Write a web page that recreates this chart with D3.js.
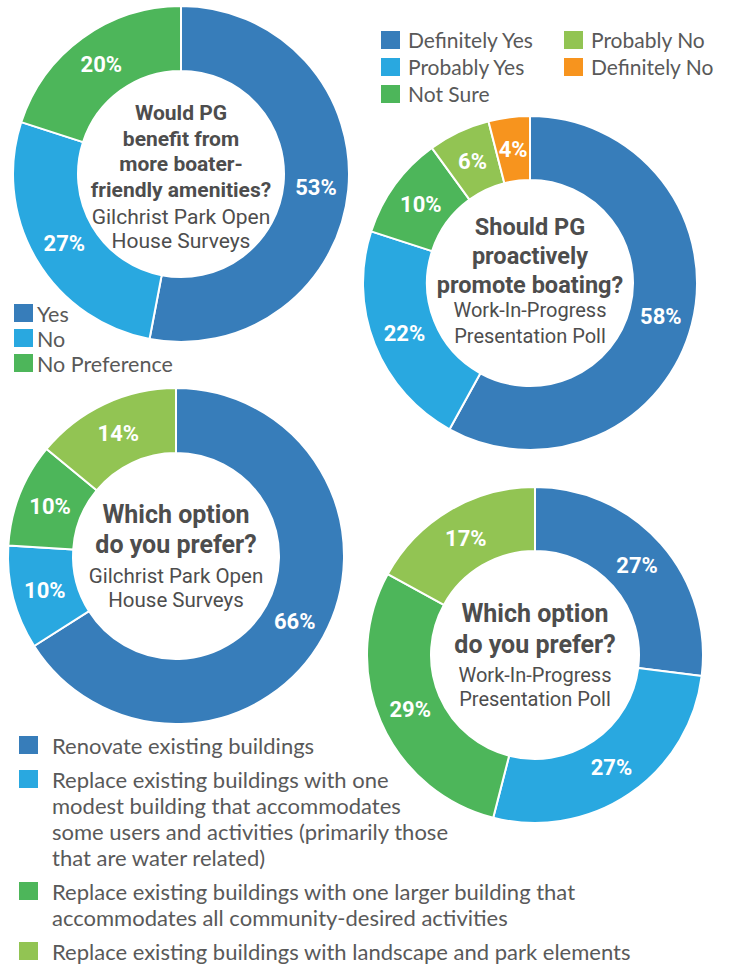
<!DOCTYPE html>
<html>
<head>
<meta charset="utf-8">
<script src="https://cdn.jsdelivr.net/npm/d3@7"></script>
<style>
  html, body { margin: 0; padding: 0; background: #fff; }
  svg { display: block; }
</style>
</head>
<body>
<svg id="chart" width="733" height="966"></svg>
<script>
// Survey results: four doughnuts
const boaterCategories = ["Yes", "No", "No Preference"];
const boaterValues = [53, 27, 20];

const promoteCategories = ["Definitely Yes", "Probably Yes", "Not Sure", "Probably No", "Definitely No"];
const promoteValues = [58, 22, 10, 6, 4];

const optionCategories = [
  "Renovate existing buildings",
  "Replace existing buildings with one\nmodest building that accommodates\nsome users and activities (primarily those\nthat are water related)",
  "Replace existing buildings with one larger building that\naccommodates all community-desired activities",
  "Replace existing buildings with landscape and park elements"
];
const optionOpenHouseValues = [66, 10, 10, 14];
const optionPollValues = [27, 27, 29, 17];

const boaterTitle = ["Would PG", "benefit from", "more boater-", "friendly amenities?"];
const promoteTitle = ["Should PG", "proactively", "promote boating?"];
const optionTitle = ["Which option", "do you prefer?"];
const openHouseSource = ["Gilchrist Park Open", "House Surveys"];
const pollSource = ["Work-In-Progress", "Presentation Poll"];

const BLUE = "#377dba", SKY = "#29a8e0", GREEN = "#4db65a", LIME = "#92c453", ORANGE = "#f7941e";
const TEXT_DARK = "#4d4d4d", LEGEND_TEXT = "#595959";

const svg = d3.select("#chart");
svg.append("rect").attr("width", 733).attr("height", 966).attr("fill", "#fff");

function doughnut(opts) {
  const g = svg.append("g").attr("transform", `translate(${opts.cx},${opts.cy})`);
  const color = d3.scaleOrdinal().domain(opts.categories).range(opts.colors);
  const pie = d3.pie().sort(null).value(d => d.value);
  const data = pie(opts.categories.map((c, i) => ({ category: c, value: opts.values[i] })));
  const arc = d3.arc().innerRadius(opts.inner).outerRadius(opts.outer);
  const labelR = (opts.inner + opts.outer) / 2;
  const labelArc = d3.arc().innerRadius(labelR).outerRadius(labelR);

  g.selectAll("path.slice").data(data).join("path")
    .attr("class", "slice")
    .attr("d", arc)
    .attr("fill", d => color(d.data.category))
    .attr("stroke", "#fff")
    .attr("stroke-width", 2)
    .attr("stroke-linejoin", "round");

  g.selectAll("text.pct").data(data).join("text")
    .attr("class", "pct")
    .attr("transform", d => `translate(${labelArc.centroid(d)})`)
    .attr("text-anchor", "middle")
    .attr("dy", "0.36em")
    .attr("font-family", "Roboto, sans-serif")
    .attr("font-weight", 700)
    .attr("font-size", 22)
    .attr("fill", "#fff")
    .text(d => d.data.value + "%");

  // centre caption: bold question followed by the source
  const t = g.append("g").attr("font-family", "Roboto, sans-serif").attr("text-anchor", "middle");
  let y = opts.titleY;
  opts.title.forEach((line, i) => {
    t.append("text").attr("y", y).attr("font-weight", 700)
      .attr("font-size", opts.titleSize).attr("fill", TEXT_DARK).text(line);
    if (i < opts.title.length - 1) y += opts.titleLH;
  });
  y += opts.gap;
  opts.source.forEach((line, i) => {
    t.append("text").attr("y", y).attr("font-weight", 400)
      .attr("font-size", opts.sourceSize).attr("fill", TEXT_DARK).text(line);
    y += opts.sourceLH;
  });
}

doughnut({ cx: 181, cy: 174, inner: 103, outer: 168,
  categories: boaterCategories, values: boaterValues, colors: [BLUE, SKY, GREEN],
  title: boaterTitle, source: openHouseSource,
  titleSize: 21, titleLH: 25.5, titleY: -54, gap: 27, sourceSize: 21, sourceLH: 24 });

doughnut({ cx: 530, cy: 283, inner: 103, outer: 167,
  categories: promoteCategories, values: promoteValues, colors: [BLUE, SKY, GREEN, LIME, ORANGE],
  title: promoteTitle, source: pollSource,
  titleSize: 23.5, titleLH: 29, titleY: -48, gap: 24, sourceSize: 20, sourceLH: 26 });

doughnut({ cx: 176, cy: 556, inner: 103, outer: 168,
  categories: optionCategories, values: optionOpenHouseValues, colors: [BLUE, SKY, GREEN, LIME],
  title: optionTitle, source: openHouseSource,
  titleSize: 25, titleLH: 30, titleY: -33, gap: 30, sourceSize: 20.5, sourceLH: 24 });

doughnut({ cx: 535, cy: 655, inner: 104, outer: 168,
  categories: optionCategories, values: optionPollValues, colors: [BLUE, SKY, GREEN, LIME],
  title: optionTitle, source: pollSource,
  titleSize: 25, titleLH: 31, titleY: -33, gap: 29, sourceSize: 20, sourceLH: 24 });

// first doughnut legend
[BLUE, SKY, GREEN].forEach((c, i) => {
  const base = 322 + i * 25;
  svg.append("rect").attr("x", 14).attr("y", base - 18).attr("width", 19).attr("height", 18).attr("fill", c);
  svg.append("text").attr("x", 37).attr("y", base)
    .attr("font-family", "Lato, sans-serif").attr("font-size", 21.5)
    .attr("fill", LEGEND_TEXT).text(boaterCategories[i]);
});

// second doughnut legend (two columns)
const promoteColors = [BLUE, SKY, GREEN, LIME, ORANGE];
promoteCategories.forEach((cat, i) => {
  const col = i < 3 ? 0 : 1;
  const row = i < 3 ? i : i - 3;
  const x = col === 0 ? 381 : 564;
  const base = 49 + row * 27;
  svg.append("rect").attr("x", x).attr("y", base - 18).attr("width", 19).attr("height", 18).attr("fill", promoteColors[i]);
  svg.append("text").attr("x", x + 27).attr("y", base - 1)
    .attr("font-family", "Lato, sans-serif").attr("font-size", 21)
    .attr("fill", LEGEND_TEXT).text(cat);
});

// options legend
const optionColors = [BLUE, SKY, GREEN, LIME];
let base = 754;
optionCategories.forEach((cat, i) => {
  const lines = cat.split("\n");
  svg.append("rect").attr("x", 19).attr("y", base - 18).attr("width", 19).attr("height", 18).attr("fill", optionColors[i]);
  const tx = svg.append("text").attr("font-family", "Lato, sans-serif")
    .attr("font-size", 22).attr("fill", LEGEND_TEXT);
  lines.forEach((line, j) => {
    tx.append("tspan").attr("x", 52).attr("y", base + j * 26).text(line);
  });
  base += (lines.length - 1) * 26 + 34;
});
</script>
</body>
</html>
